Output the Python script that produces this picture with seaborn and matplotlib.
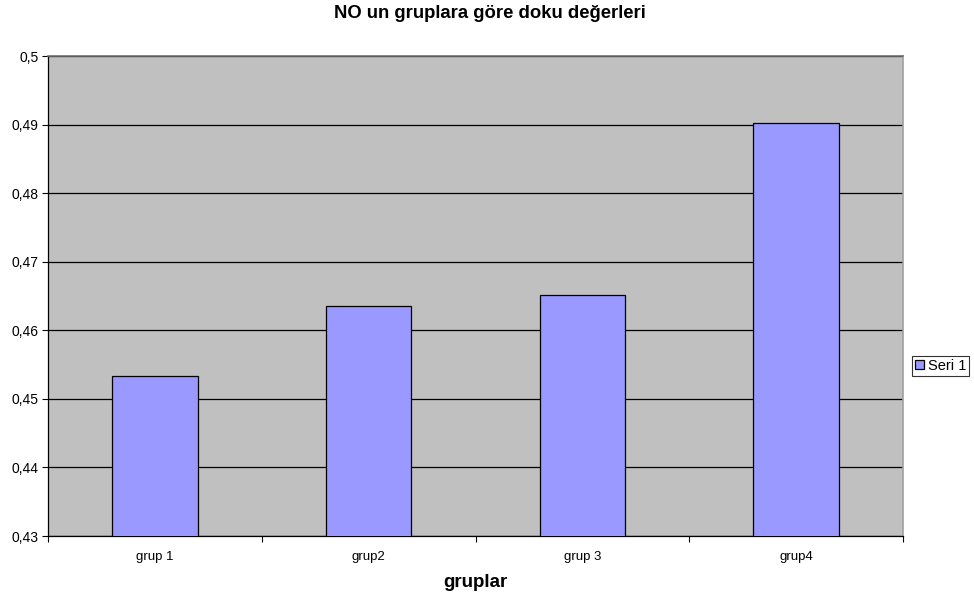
import matplotlib
matplotlib.use("Agg")
import matplotlib.pyplot as plt
from matplotlib.ticker import FuncFormatter, FixedLocator
import seaborn as sns
import pandas as pd

groups = ["grup 1", "grup2", "grup 3", "grup4"]
values = [0.4534, 0.4636, 0.4652, 0.4903]
series_name = "Seri 1"
y_ticks = [0.43, 0.44, 0.45, 0.46, 0.47, 0.48, 0.49, 0.50]

df = pd.DataFrame({"grup": groups, "deger": values})

sns.set_theme(style="white")
plt.rcParams["font.family"] = ["Liberation Sans", "DejaVu Sans"]
plt.rcParams["text.color"] = "black"
plt.rcParams["xtick.color"] = "black"
plt.rcParams["ytick.color"] = "black"
plt.rcParams["axes.labelcolor"] = "black"

fig = plt.figure(figsize=(9.74, 6.01), dpi=100)
ax = fig.add_axes([48 / 974, 1 - 536 / 601, (903 - 48) / 974, (536 - 56) / 601])
ax.set_facecolor("#C0C0C0")

sns.barplot(data=df, x="grup", y="deger", color="#9999FF", edgecolor="black",
            linewidth=0.9, width=0.4, saturation=1, label=series_name, ax=ax, zorder=3)
handles, labels = ax.get_legend_handles_labels()
if ax.get_legend() is not None:
    ax.get_legend().remove()

ax.set_xlim(-0.5, len(groups) - 0.5)
ax.set_ylim(y_ticks[0], y_ticks[-1])
ax.yaxis.set_major_locator(FixedLocator(y_ticks))
ax.yaxis.set_major_formatter(FuncFormatter(lambda v, _: f"{v:g}".replace(".", ",")))
ax.yaxis.grid(True, color="black", linewidth=0.9, zorder=1)
ax.set_axisbelow(True)

# category boundaries carry the x tick marks; labels sit at the bar centres
ax.set_xticks(range(len(groups)))
ax.set_xticklabels(groups, fontsize=9.5)
ax.xaxis.set_minor_locator(FixedLocator([i + 0.5 for i in range(-1, len(groups))]))
ax.tick_params(axis="x", which="major", length=0, pad=11)
ax.tick_params(axis="x", which="minor", length=4, width=0.8, color="black", direction="out", bottom=True)
ax.tick_params(axis="y", length=4, width=0.8, color="black", direction="out", left=True, labelsize=10, pad=3)

for side in ("left", "bottom"):
    ax.spines[side].set_color("black")
    ax.spines[side].set_linewidth(0.9)
ax.spines["top"].set_color("#707070")
ax.spines["top"].set_linewidth(1.2)
ax.spines["right"].set_color("#A0A0A0")
ax.spines["right"].set_linewidth(1.2)

ax.set_xlabel("gruplar", fontsize=13.5, fontweight="bold", labelpad=8)
ax.set_ylabel("")
fig.text(490 / 974, 1 - 14 / 601, "NO un gruplara göre doku değerleri",
         ha="center", va="center", fontsize=13.3, fontweight="bold")

leg = fig.legend(handles, labels, loc="center left", bbox_to_anchor=(912 / 974, 1 - 366 / 601),
                 fontsize=10.5, frameon=True, fancybox=False, edgecolor="black",
                 handlelength=0.6, handleheight=0.6, handletextpad=0.3,
                 borderpad=0.2, borderaxespad=0)
leg.get_frame().set_linewidth(0.8)

fig.savefig("out.png", dpi=100, facecolor="white")
